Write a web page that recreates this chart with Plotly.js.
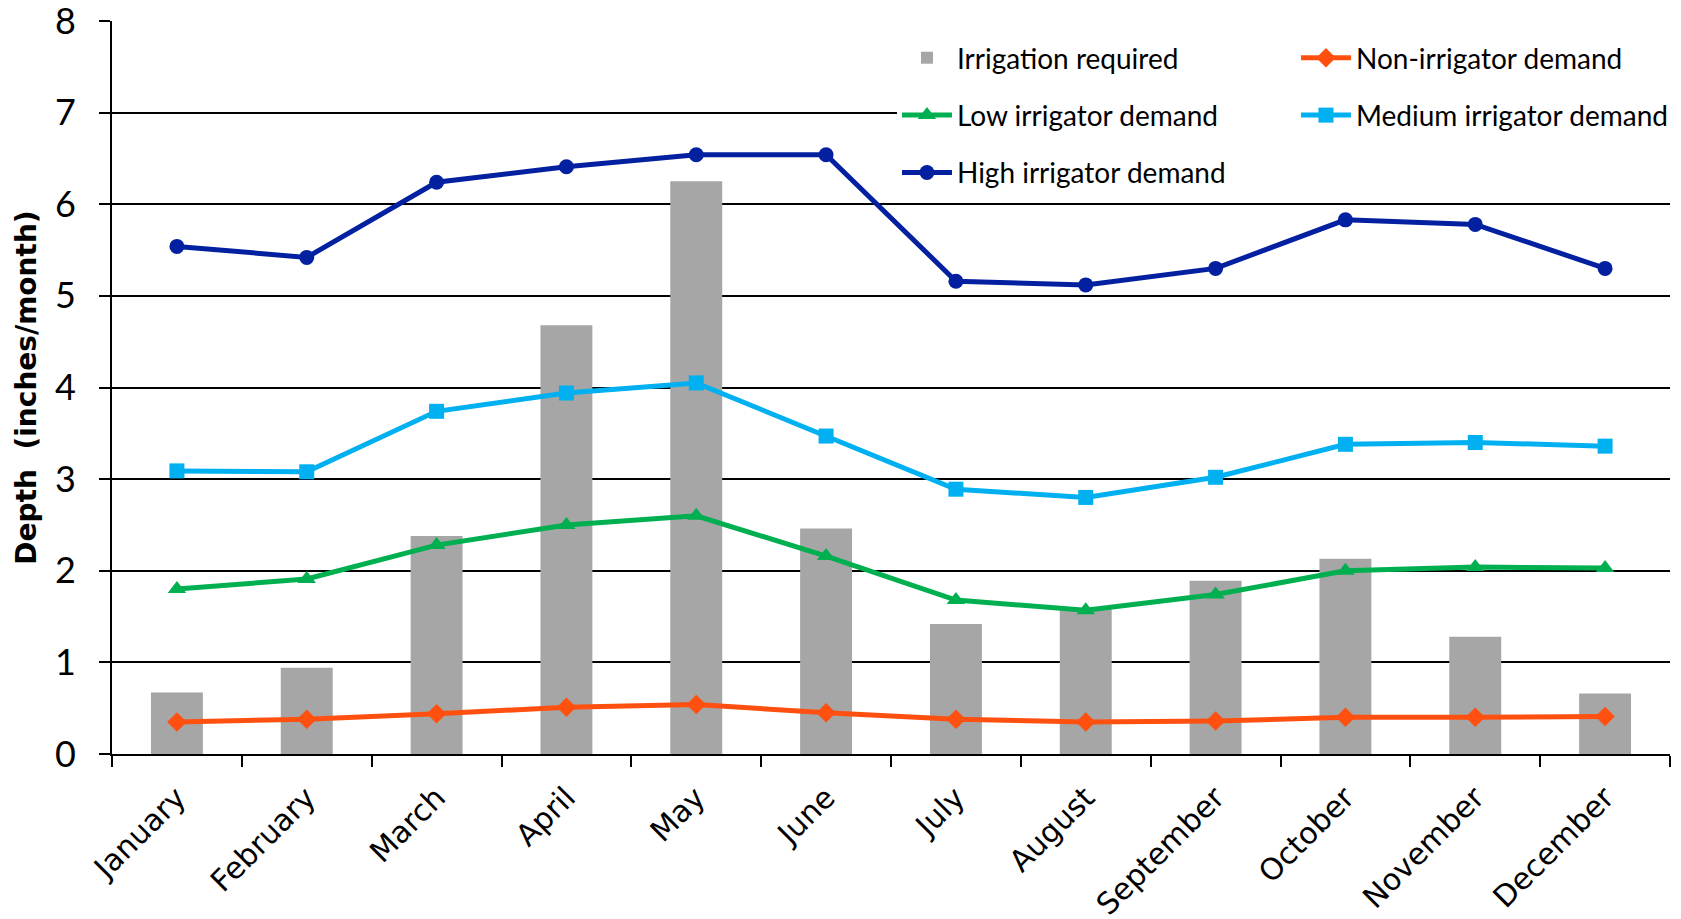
<!DOCTYPE html>
<html>
<head>
<meta charset="utf-8">
<script src="https://cdn.plot.ly/plotly-3.0.1.min.js"></script>
<style>
  html, body { margin: 0; padding: 0; background: #ffffff; }
  #chart { width: 1681px; height: 919px; }
</style>
</head>
<body>
<div id="chart"></div>
<script>
// Monthly depths (inches/month)
const months = ["January", "February", "March", "April", "May", "June",
                "July", "August", "September", "October", "November", "December"];

const irrigationRequired = [0.67, 0.94, 2.38, 4.68, 6.25, 2.46, 1.42, 1.58, 1.89, 2.13, 1.28, 0.66];
const nonIrrigatorDemand = [0.35, 0.38, 0.44, 0.51, 0.54, 0.45, 0.38, 0.35, 0.36, 0.40, 0.40, 0.41];
const lowIrrigatorDemand = [1.80, 1.91, 2.28, 2.50, 2.60, 2.16, 1.68, 1.57, 1.74, 2.00, 2.04, 2.03];
const mediumIrrigatorDemand = [3.09, 3.08, 3.74, 3.94, 4.05, 3.47, 2.89, 2.80, 3.02, 3.38, 3.40, 3.36];
const highIrrigatorDemand = [5.54, 5.42, 6.24, 6.41, 6.54, 6.54, 5.16, 5.12, 5.30, 5.83, 5.78, 5.30];

const yTickValues = [0, 1, 2, 3, 4, 5, 6, 7, 8];

const LEFT_COL = 334;   // legend entry width, first column
const RIGHT_COL = 319;  // legend entry width, second column

function demandLine(name, values, color, symbol, size, group, entryWidth) {
  return {
    type: "scatter",
    mode: "lines+markers",
    name: name,
    x: months,
    y: values,
    legendgroup: group,
    legendwidth: entryWidth,
    line: { color: color, width: 5 },
    marker: { color: color, symbol: symbol, size: size, line: { width: 0 } },
    cliponaxis: false
  };
}

const traces = [
  {
    type: "bar",
    name: "Irrigation required",
    x: months,
    y: irrigationRequired,
    width: 0.4,
    legendgroup: "g1",
    legendwidth: LEFT_COL,
    marker: { color: "#a6a6a6", line: { width: 0 } }
  },
  demandLine("Non-irrigator demand", nonIrrigatorDemand, "#ff5010", "diamond", 15, "g2", RIGHT_COL),
  demandLine("Low irrigator demand", lowIrrigatorDemand, "#00b050", "triangle-up", 16, "g3", LEFT_COL),
  demandLine("Medium irrigator demand", mediumIrrigatorDemand, "#00b0f0", "square", 15, "g4", RIGHT_COL),
  demandLine("High irrigator demand", highIrrigatorDemand, "#0320a0", "circle", 15, "g5", LEFT_COL)
];

const layout = {
  width: 1681,
  height: 919,
  margin: { l: 112, r: 11, t: 21, b: 165, autoexpand: false },
  paper_bgcolor: "#ffffff",
  plot_bgcolor: "#ffffff",
  showlegend: true,
  hovermode: false,
  font: { family: "Lato, 'DejaVu Sans', sans-serif", color: "#000000" },
  xaxis: {
    type: "category",
    categoryorder: "array",
    categoryarray: months,
    range: [-0.5, 11.5],
    showgrid: false,
    zeroline: false,
    showline: true,
    linecolor: "#000000",
    linewidth: 2,
    ticks: "outside",
    tickson: "boundaries",
    ticklen: 11,
    tickwidth: 2,
    tickcolor: "#000000",
    tickangle: -45,
    ticklabelstandoff: 12,
    ticklabeloverflow: "allow",
    tickfont: { family: "'DejaVu Sans', Verdana, sans-serif", size: 30, color: "#000000" }
  },
  yaxis: {
    range: [0, 8],
    tickmode: "array",
    tickvals: yTickValues,
    ticktext: yTickValues.map(String),
    showgrid: true,
    gridcolor: "#000000",
    gridwidth: 2,
    zeroline: false,
    showline: true,
    linecolor: "#000000",
    linewidth: 2,
    ticks: "outside",
    ticklen: 11,
    tickwidth: 2,
    tickcolor: "#000000",
    ticklabelstandoff: 16,
    ticklabeloverflow: "allow",
    tickfont: { family: "Lato, sans-serif", size: 36, color: "#000000" },
    title: {
      text: "Depth\u00a0 (inches/month)",
      standoff: 10,
      font: { family: "'DejaVu Sans', Verdana, sans-serif", size: 28, weight: "bold", color: "#000000" }
    }
  },
  legend: {
    orientation: "h",
    x: 1.0064,
    xanchor: "right",
    y: 0.9836,
    yanchor: "top",
    bgcolor: "#ffffff",
    borderwidth: 0,
    itemwidth: 50,
    entrywidth: LEFT_COL,
    tracegroupgap: 18,
    traceorder: "grouped",
    font: { family: "Lato, sans-serif", size: 28, color: "#000000" }
  }
};

Plotly.newPlot("chart", traces, layout, { staticPlot: true, displayModeBar: false });
</script>
</body>
</html>
